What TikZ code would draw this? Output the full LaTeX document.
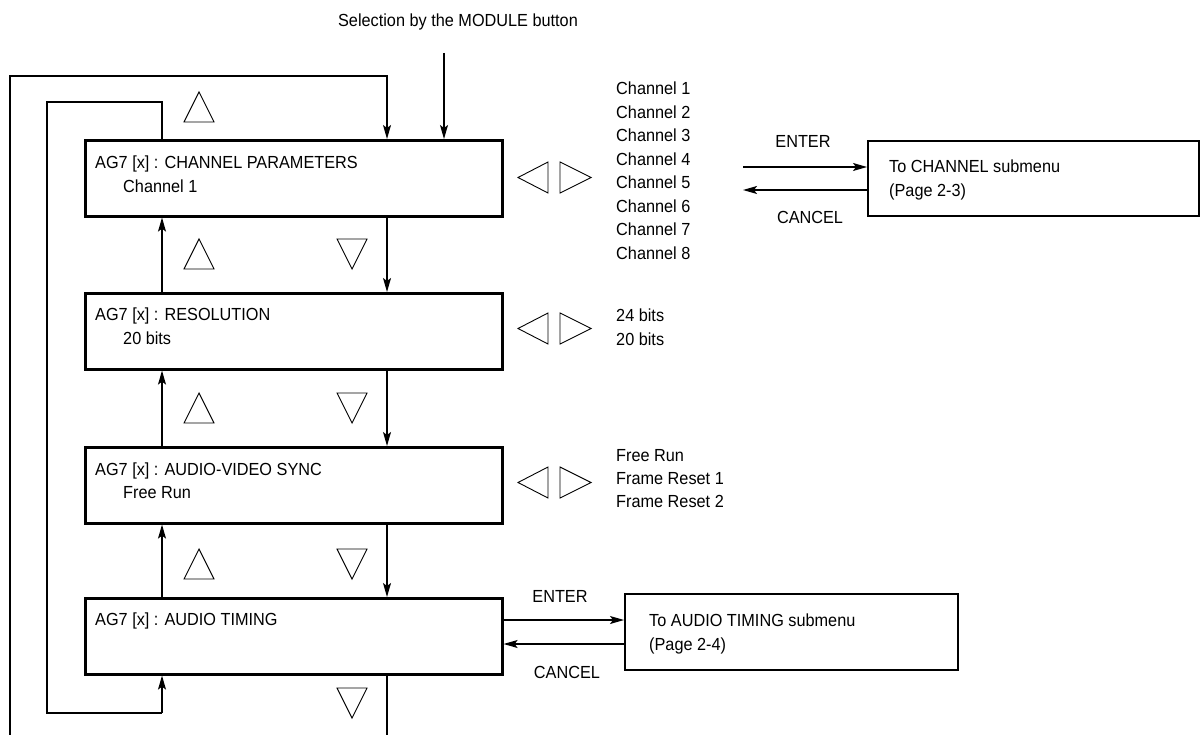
\documentclass[tikz,border=0pt]{standalone}
\usepackage{fontspec}
\setmainfont{Liberation Sans}[FakeStretch=0.93]
\usetikzlibrary{arrows.meta}
\begin{document}
\begin{tikzpicture}[x=1pt,y=-1pt,
  every node/.style={font=\fontsize{17.5}{20}\selectfont, inner sep=0pt},
  menubox/.style={draw, line width=2.6pt, minimum width=417pt, minimum height=76pt, anchor=north west},
  subbox/.style={draw, line width=2.4pt, anchor=north west},
  conn/.style={line width=1.3pt},
  arr/.style={conn, -{Stealth[length=14pt,width=8pt,inset=3pt]}},
  tri/.style={line width=0.9pt},
  lbl/.style={anchor=base west},
  clbl/.style={anchor=base},
  uptri/.pic={\draw[tri] (-15,15) -- (15,15) -- (0,-15) -- cycle;},
  dntri/.pic={\draw[tri] (-15,-15) -- (15,-15) -- (0,15) -- cycle;},
  lrtri/.pic={\draw[tri] (-12,-15.5) -- (-12,15.5) -- (-42,0) -- cycle;
              \draw[tri] (0,-15.5) -- (0,15.5) -- (31,0) -- cycle;}
]
\useasboundingbox (0,0) rectangle (1201,735);

% main menu boxes
\node[menubox] (b1) at (84,139) {};
\node[menubox] (b2) at (84,292) {};
\node[menubox] (b3) at (84,446) {};
\node[menubox] (b4) at (84,597) {};

% submenu boxes
\node[subbox, minimum width=331pt, minimum height=75pt] (s1) at (867,140) {};
\node[subbox, minimum width=333pt, minimum height=76pt] (s2) at (624,593) {};

% box texts
\node[lbl] (t1a) at (95,169) {AG7 [x] : CHANNEL PARAMETERS};
\node[lbl] (t1b) at (123,192.5) {Channel 1};
\node[lbl] (t2a) at (95,320) {AG7 [x] : RESOLUTION};
\node[lbl] (t2b) at (123,344.5) {20 bits};
\node[lbl] (t3a) at (95,475) {AG7 [x] : AUDIO-VIDEO SYNC};
\node[lbl] (t3b) at (123,498.5) {Free Run};
\node[lbl] (t4a) at (95,625) {AG7 [x] : AUDIO TIMING};

\node[lbl] (s1a) at (889,173) {To CHANNEL submenu};
\node[lbl] (s1b) at (889,196.5) {(Page 2-3)};
\node[lbl] (s2a) at (649,626) {To AUDIO TIMING submenu};
\node[lbl] (s2b) at (649,650) {(Page 2-4)};

% option lists
\node[lbl] (c1) at (616,95) {Channel 1};
\node[lbl] (c2) at (616,118.5) {Channel 2};
\node[lbl] (c3) at (616,142) {Channel 3};
\node[lbl] (c4) at (616,165.5) {Channel 4};
\node[lbl] (c5) at (616,189) {Channel 5};
\node[lbl] (c6) at (616,212.5) {Channel 6};
\node[lbl] (c7) at (616,236) {Channel 7};
\node[lbl] (c8) at (616,259.5) {Channel 8};
\node[lbl] (r1) at (616,321) {24 bits};
\node[lbl] (r2) at (616,345) {20 bits};
\node[lbl] (f1) at (616,461) {Free Run};
\node[lbl] (f2) at (616,484) {Frame Reset 1};
\node[lbl] (f3) at (616,507) {Frame Reset 2};

% title
\node[clbl] (title) at (458,27) {Selection by the MODULE button};
\coordinate (modtop) at (444,53);

% ENTER / CANCEL labels
\node[clbl] (en1) at (803,148) {ENTER};
\node[clbl] (ca1) at (810,224) {CANCEL};
\node[clbl] (en2) at (560,602) {ENTER};
\node[clbl] (ca2) at (567,678) {CANCEL};

% helper coordinates
\coordinate (xu) at (162,0);
\coordinate (xd) at (387,0);
\coordinate (xo) at (10,0);
\coordinate (xi) at (47,0);
\coordinate (ytop) at (0,76);
\coordinate (yin) at (0,102);
\coordinate (ybot) at (0,713);
\coordinate (yend) at (0,735);
\coordinate (e1) at (743,0);

% module arrow
\draw[arr] (modtop) -- (modtop |- b1.north);

% outer loop
\draw[arr] (xo |- yend) -- (xo |- ytop) -- (xd |- ytop) -- (xd |- b1.north);
\draw[conn] (xd |- b4.south) -- (xd |- yend);

% inner loop
\draw[conn] (xu |- b1.north) -- (xu |- yin) -- (xi |- yin) -- (xi |- ybot) -- (xu |- ybot);
\draw[arr] (xu |- ybot) -- (xu |- b4.south);

% vertical up/down connectors
\draw[arr] (xu |- b2.north) -- (xu |- b1.south);
\draw[arr] (xu |- b3.north) -- (xu |- b2.south);
\draw[arr] (xu |- b4.north) -- (xu |- b3.south);
\draw[arr] (xd |- b1.south) -- (xd |- b2.north);
\draw[arr] (xd |- b2.south) -- (xd |- b3.north);
\draw[arr] (xd |- b3.south) -- (xd |- b4.north);

% enter / cancel arrows
\draw[arr] (e1 |- 0,167) -- (s1.west |- 0,167);
\draw[arr] (s1.west |- 0,190) -- (e1 |- 0,190);
\draw[arr] (b4.east |- 0,620) -- (s2.west |- 0,620);
\draw[arr] (s2.west |- 0,644) -- (b4.east |- 0,644);

% triangles
\pic at (199,107) {uptri};
\pic at (199,254) {uptri};
\pic at (199,408) {uptri};
\pic at (199,564) {uptri};
\pic at (352,254) {dntri};
\pic at (352,408) {dntri};
\pic at (352,564) {dntri};
\pic at (352,703) {dntri};
\pic at (560,177.5) {lrtri};
\pic at (560,328.5) {lrtri};
\pic at (560,482.5) {lrtri};
\end{tikzpicture}
\end{document}
